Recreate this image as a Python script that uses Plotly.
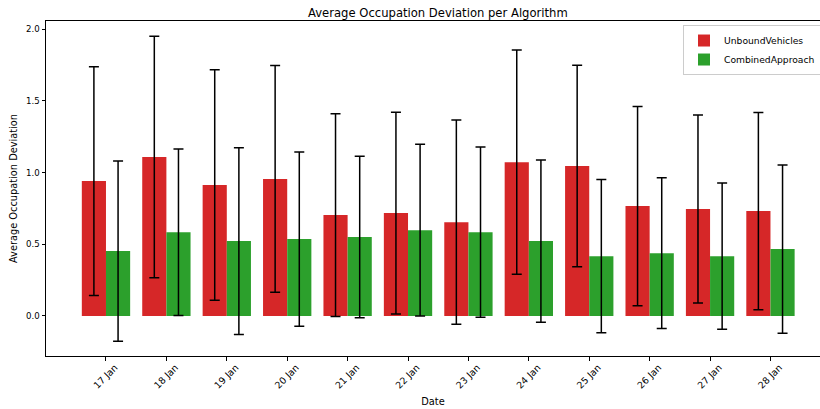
import plotly.graph_objects as go

# Daily dates shown on the x axis
dates = ["17 Jan", "18 Jan", "19 Jan", "20 Jan", "21 Jan", "22 Jan",
         "23 Jan", "24 Jan", "25 Jan", "26 Jan", "27 Jan", "28 Jan"]

# Mean occupation deviation and its standard deviation per algorithm
unbound_mean = [0.94, 1.108, 0.913, 0.955, 0.703, 0.717, 0.654, 1.072, 1.045, 0.766, 0.745, 0.731]
unbound_std = [0.797, 0.842, 0.803, 0.79, 0.707, 0.703, 0.712, 0.781, 0.702, 0.694, 0.655, 0.688]

combined_mean = [0.452, 0.584, 0.522, 0.536, 0.55, 0.598, 0.584, 0.522, 0.417, 0.438, 0.417, 0.466]
combined_std = [0.628, 0.58, 0.651, 0.607, 0.563, 0.599, 0.593, 0.565, 0.534, 0.525, 0.51, 0.587]

FONT = "DejaVu Sans"
YTICK_SIZE = 8.6
XTICK_SIZE = 9.4
LABEL_SIZE = 9.8
LEGEND_SIZE = 9.2
TITLE_SIZE = 11.6

fig = go.Figure()
fig.add_trace(go.Bar(
    name="UnboundVehicles", x=dates, y=unbound_mean,
    marker=dict(color="#d62728", line=dict(width=0)),
    error_y=dict(type="data", array=unbound_std, visible=True,
                 color="black", thickness=1.5, width=5),
))
fig.add_trace(go.Bar(
    name="CombinedApproach", x=dates, y=combined_mean,
    marker=dict(color="#2ca02c", line=dict(width=0)),
    error_y=dict(type="data", array=combined_std, visible=True,
                 color="black", thickness=1.5, width=5),
))

fig.update_layout(
    width=820, height=409,
    margin=dict(l=46, r=0, t=21, b=53, autoexpand=False),
    paper_bgcolor="white", plot_bgcolor="white",
    barmode="group", bargap=0.2, bargroupgap=0.0,
    font=dict(family=FONT, size=YTICK_SIZE, color="black"),
    title=dict(text="Average Occupation Deviation per Algorithm",
               font=dict(family=FONT, size=TITLE_SIZE, color="black"),
               xref="container", x=0.534, xanchor="center",
               yref="container", y=0.968, yanchor="middle"),
    legend=dict(x=0.823, y=0.988, xanchor="left", yanchor="top",
                bgcolor="rgba(255,255,255,0.8)", bordercolor="#cccccc",
                borderwidth=1, font=dict(family=FONT, size=LEGEND_SIZE),
                itemwidth=30, tracegroupgap=0),
    showlegend=True,
)

fig.update_xaxes(
    type="category", range=[-0.993, 11.82],
    showline=True, linecolor="black", linewidth=1, mirror=True,
    ticks="outside", ticklen=3.5, tickcolor="black", tickwidth=1,
    tickangle=-45, ticklabelshift=9, ticklabelstandoff=-2,
    tickfont=dict(size=XTICK_SIZE),
    showgrid=False, zeroline=False, automargin=False,
    title=dict(text="Date", font=dict(family=FONT, size=LABEL_SIZE), standoff=8),
)
fig.update_yaxes(
    range=[-0.279, 2.056],
    tickvals=[0.0, 0.5, 1.0, 1.5, 2.0],
    ticktext=["0.0", "0.5", "1.0", "1.5", "2.0"],
    tickfont=dict(size=YTICK_SIZE),
    showline=True, linecolor="black", linewidth=1,
    ticks="outside", ticklen=3.5, tickcolor="black", tickwidth=1,
    showgrid=False, zeroline=False, automargin=False,
    title=dict(text="Average Occupation Deviation", font=dict(family=FONT, size=LABEL_SIZE), standoff=6),
)

fig.write_html("out.html")
